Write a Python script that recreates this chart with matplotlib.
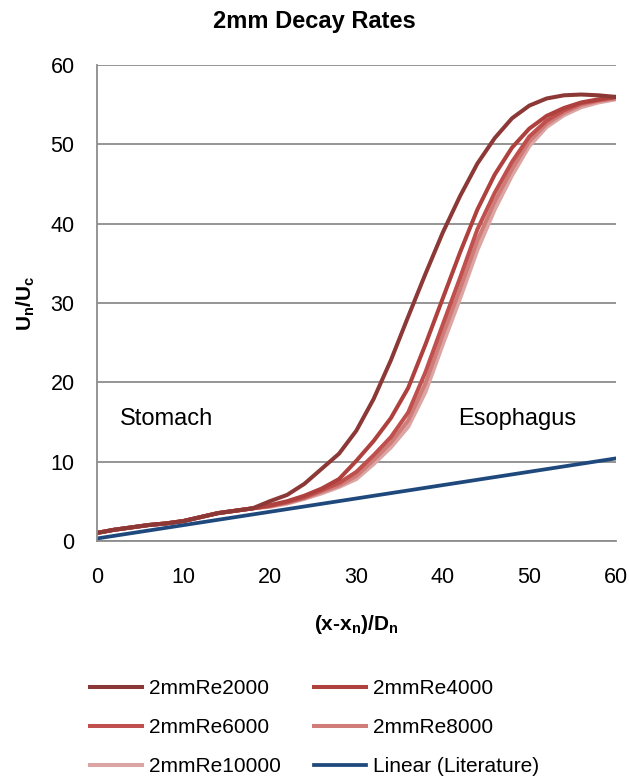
import matplotlib.pyplot as plt
import numpy as np

plt.rcParams['font.family'] = ['Liberation Sans', 'DejaVu Sans']
plt.rcParams['mathtext.fontset'] = 'custom'
plt.rcParams['mathtext.rm'] = 'Liberation Sans'
plt.rcParams['mathtext.bf'] = 'Liberation Sans:bold'

# distance downstream, (x-xn)/Dn
x = np.arange(0, 62, 2)

low = [1.0, 1.4, 1.7, 2.0, 2.2, 2.5, 3.0, 3.5, 3.8, 4.1]

re2000 = low + [5.0, 5.8, 7.2, 9.1, 11.0, 13.9, 17.9, 22.8, 28.3, 33.7, 38.9,
                43.5, 47.6, 50.8, 53.3, 54.9, 55.8, 56.2, 56.3, 56.2, 56.0]
re4000 = low + [4.5, 5.0, 5.7, 6.6, 7.8, 10.1, 12.6, 15.5, 19.3, 24.8, 30.6,
                36.4, 41.8, 46.2, 49.6, 52.0, 53.6, 54.6, 55.3, 55.7, 56.0]
re6000 = low + [4.4, 4.9, 5.5, 6.4, 7.3, 8.7, 10.8, 13.1, 16.2, 21.3, 27.3,
                33.2, 39.3, 43.9, 47.8, 51.0, 53.0, 54.3, 55.2, 55.6, 56.0]
re8000 = low + [4.4, 4.8, 5.4, 6.2, 7.0, 8.2, 10.2, 12.4, 15.2, 19.9, 26.0,
                31.8, 37.9, 42.8, 46.9, 50.4, 52.6, 54.0, 55.0, 55.5, 55.8]
re10000 = low + [4.3, 4.7, 5.3, 6.0, 6.8, 7.8, 9.7, 11.8, 14.4, 18.8, 24.8,
                 30.6, 36.7, 41.8, 46.1, 49.8, 52.2, 53.7, 54.7, 55.3, 55.7]

# literature trend line
lin_x = [0, 60]
lin_y = [0.3, 10.4]

series = [
    ('2mmRe2000', re2000, '#8C3836'),
    ('2mmRe4000', re4000, '#AE403D'),
    ('2mmRe6000', re6000, '#C0504D'),
    ('2mmRe8000', re8000, '#D07C79'),
    ('2mmRe10000', re10000, '#DCA5A3'),
]

fig = plt.figure(figsize=(6.29, 7.76), dpi=100)
ax = fig.add_axes([0.154, 0.303, 0.825, 0.613])

# lightest first so the darker curves sit on top
handles = {}
for name, y, col in reversed(series):
    h, = ax.plot(x, y, color=col, linewidth=2.9, label=name)
    handles[name] = h
hl, = ax.plot(lin_x, lin_y, color='#1F497D', linewidth=2.7, label='Linear (Literature)')

ax.set_xlim(0, 60)
ax.set_ylim(0, 60)
ax.set_xticks(range(0, 61, 10))
ax.set_yticks(range(0, 61, 10))
ax.tick_params(labelsize=15.5, length=0)
ax.tick_params(axis='y', pad=16)
ax.tick_params(axis='x', pad=19)
ax.yaxis.grid(True, color='#8C8C8C', linewidth=1.3)
ax.set_axisbelow(True)
for s in ['top', 'right']:
    ax.spines[s].set_visible(False)
for s in ['left', 'bottom']:
    ax.spines[s].set_color('#8C8C8C')
    ax.spines[s].set_linewidth(1.3)

fig.suptitle('2mm Decay Rates', fontsize=17, fontweight='bold', x=0.5, y=0.972,
             va='center')
ax.set_xlabel('(x-x$_\\mathbf{n}$)/D$_\\mathbf{n}$', fontsize=15,
              fontweight='bold', labelpad=18)
ax.set_ylabel('U$_\\mathbf{n}$/U$_\\mathbf{c}$', fontsize=15,
              fontweight='bold', labelpad=10)

ax.text(2.7, 14.6, 'Stomach', fontsize=17, va='baseline')
ax.text(41.8, 14.6, 'Esophagus', fontsize=17, va='baseline')

# legend fills column by column, so order it to read across the rows
order = ['2mmRe2000', '2mmRe6000', '2mmRe10000', '2mmRe4000', '2mmRe8000']
hs = [handles[n] for n in order] + [hl]
labels = order + ['Linear (Literature)']
fig.legend(hs, labels, loc='upper left', bbox_to_anchor=(0.126, 0.138),
           ncol=2, frameon=False, fontsize=15, handlelength=2.5,
           handletextpad=0.34, columnspacing=1.6, labelspacing=0.95,
           borderpad=0)

fig.savefig('out.png', dpi=100)
